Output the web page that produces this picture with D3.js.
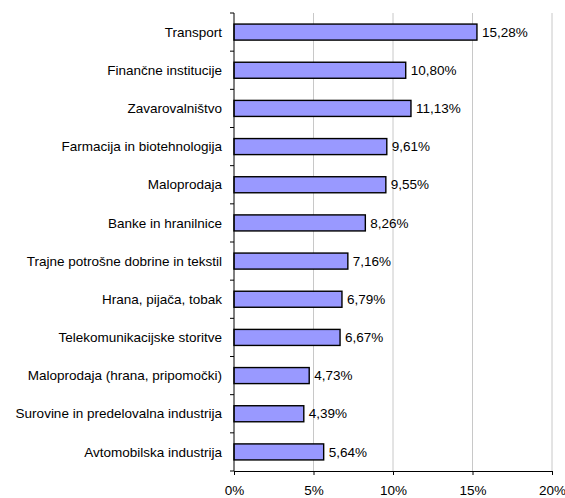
<!DOCTYPE html>
<html>
<head>
<meta charset="utf-8">
<script src="https://cdn.jsdelivr.net/npm/d3@7"></script>
<style>
  html, body { margin: 0; padding: 0; background: #fff; }
  svg { display: block; }
  text { font-family: "Liberation Sans", Arial, sans-serif; fill: #000; }
</style>
</head>
<body>
<script>
// Sector shares (%), top to bottom
const categories = [
  "Transport",
  "Finančne institucije",
  "Zavarovalništvo",
  "Farmacija in biotehnologija",
  "Maloprodaja",
  "Banke in hranilnice",
  "Trajne potrošne dobrine in tekstil",
  "Hrana, pijača, tobak",
  "Telekomunikacijske storitve",
  "Maloprodaja (hrana, pripomočki)",
  "Surovine in predelovalna industrija",
  "Avtomobilska industrija"
];
const values = [15.28, 10.80, 11.13, 9.61, 9.55, 8.26, 7.16, 6.79, 6.67, 4.73, 4.39, 5.64];
const xTicks = [0, 5, 10, 15, 20];

const W = 565, H = 498;
const margin = { top: 13, right: 13, bottom: 27, left: 234 };
const FS = 13.5;

const svg = d3.select("body").append("svg")
  .attr("width", W).attr("height", H);

const x = d3.scaleLinear().domain([0, 20]).range([margin.left, W - margin.right]);
const y = d3.scaleBand().domain(categories)
  .range([margin.top, H - margin.bottom])
  .paddingInner(0.58).paddingOuter(0.29);

// Band boundaries for the category tick marks
const step = y.step();
const y0 = margin.top;
const y1 = H - margin.bottom;

// Vertical gridlines
svg.append("g")
  .selectAll("line")
  .data(xTicks.filter(d => d > 0))
  .join("line")
  .attr("x1", d => x(d)).attr("x2", d => x(d))
  .attr("y1", y0).attr("y2", y1)
  .attr("stroke", "#c8c8c8").attr("stroke-width", 1);

// Bars
svg.append("g")
  .selectAll("rect")
  .data(values)
  .join("rect")
  .attr("x", x(0))
  .attr("y", (d, i) => y(categories[i]))
  .attr("width", d => x(d) - x(0))
  .attr("height", y.bandwidth())
  .attr("fill", "#9999ff")
  .attr("stroke", "#000")
  .attr("stroke-width", 1.4);

// Value labels
svg.append("g")
  .selectAll("text")
  .data(values)
  .join("text")
  .attr("x", d => x(d) + 5)
  .attr("y", (d, i) => y(categories[i]) + y.bandwidth() / 2)
  .attr("dy", "0.35em")
  .attr("font-size", FS)
  .text(d => d.toFixed(2).replace(".", ",") + "%");

// Category axis (left)
const yAxis = svg.append("g");
yAxis.append("line")
  .attr("x1", x(0)).attr("x2", x(0))
  .attr("y1", y0).attr("y2", y1)
  .attr("stroke", "#000").attr("stroke-width", 1);
yAxis.selectAll("line.tick")
  .data(d3.range(categories.length + 1))
  .join("line").attr("class", "tick")
  .attr("x1", x(0) - 4).attr("x2", x(0))
  .attr("y1", i => y0 + i * step).attr("y2", i => y0 + i * step)
  .attr("stroke", "#000").attr("stroke-width", 1);
yAxis.selectAll("text")
  .data(categories)
  .join("text")
  .attr("x", x(0) - 12)
  .attr("y", d => y(d) + y.bandwidth() / 2)
  .attr("dy", "0.35em")
  .attr("text-anchor", "end")
  .attr("font-size", FS)
  .text(d => d);

// Value axis (bottom)
const xAxis = svg.append("g")
  .attr("transform", `translate(0,${y1})`)
  .call(d3.axisBottom(x).tickValues(xTicks).tickSize(4).tickPadding(10)
    .tickFormat(d => d + "%"));
xAxis.select(".domain").attr("stroke", "#000");
xAxis.selectAll(".tick line").attr("stroke", "#000");
xAxis.selectAll(".tick text")
  .attr("font-size", FS)
  .attr("font-family", "Liberation Sans, Arial, sans-serif")
  .attr("fill", "#000");
</script>
</body>
</html>
